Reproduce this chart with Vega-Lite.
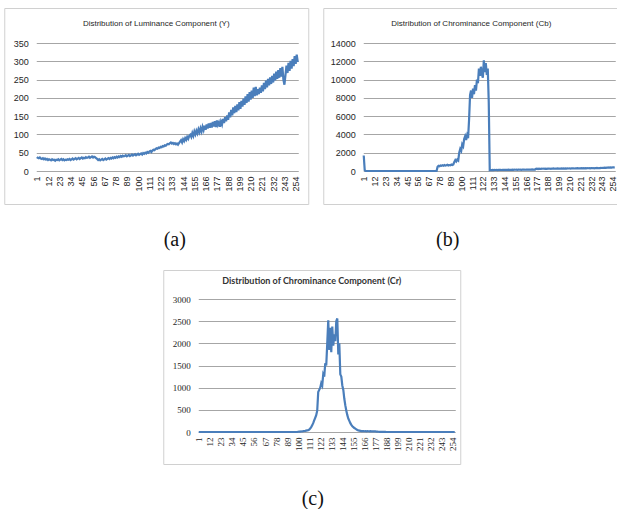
{
"$schema": "https://vega.github.io/schema/vega-lite/v6.json",
"padding": {"left": 3, "top": 7, "right": 0, "bottom": 0},
"background": "white",
"datasets": {"hist": [
{"i":1,"Y":38,"Cb":1700,"Cr":0},{"i":2,"Y":36,"Cb":80,"Cr":0},{"i":3,"Y":35,"Cb":0,"Cr":0},{"i":4,"Y":37,"Cb":0,"Cr":0},{"i":5,"Y":34,"Cb":0,"Cr":0},
{"i":6,"Y":33,"Cb":0,"Cr":0},{"i":7,"Y":35,"Cb":0,"Cr":0},{"i":8,"Y":32,"Cb":0,"Cr":0},{"i":9,"Y":34,"Cb":0,"Cr":0},{"i":10,"Y":31,"Cb":0,"Cr":0},
{"i":11,"Y":33,"Cb":0,"Cr":0},{"i":12,"Y":30,"Cb":0,"Cr":0},{"i":13,"Y":32,"Cb":0,"Cr":0},{"i":14,"Y":31,"Cb":0,"Cr":0},{"i":15,"Y":29,"Cb":0,"Cr":0},
{"i":16,"Y":32,"Cb":0,"Cr":0},{"i":17,"Y":30,"Cb":0,"Cr":0},{"i":18,"Y":31,"Cb":0,"Cr":0},{"i":19,"Y":28,"Cb":0,"Cr":0},{"i":20,"Y":31,"Cb":0,"Cr":0},
{"i":21,"Y":30,"Cb":0,"Cr":0},{"i":22,"Y":32,"Cb":0,"Cr":0},{"i":23,"Y":29,"Cb":0,"Cr":0},{"i":24,"Y":31,"Cb":0,"Cr":0},{"i":25,"Y":33,"Cb":0,"Cr":0},
{"i":26,"Y":30,"Cb":0,"Cr":0},{"i":27,"Y":32,"Cb":0,"Cr":0},{"i":28,"Y":29,"Cb":0,"Cr":0},{"i":29,"Y":31,"Cb":0,"Cr":0},{"i":30,"Y":30,"Cb":0,"Cr":0},
{"i":31,"Y":32,"Cb":0,"Cr":0},{"i":32,"Y":31,"Cb":0,"Cr":0},{"i":33,"Y":33,"Cb":0,"Cr":0},{"i":34,"Y":30,"Cb":0,"Cr":0},{"i":35,"Y":32,"Cb":0,"Cr":0},
{"i":36,"Y":34,"Cb":0,"Cr":0},{"i":37,"Y":31,"Cb":0,"Cr":0},{"i":38,"Y":33,"Cb":0,"Cr":0},{"i":39,"Y":35,"Cb":0,"Cr":0},{"i":40,"Y":32,"Cb":0,"Cr":0},
{"i":41,"Y":34,"Cb":0,"Cr":0},{"i":42,"Y":36,"Cb":0,"Cr":0},{"i":43,"Y":33,"Cb":0,"Cr":0},{"i":44,"Y":35,"Cb":0,"Cr":0},{"i":45,"Y":37,"Cb":0,"Cr":0},
{"i":46,"Y":34,"Cb":0,"Cr":0},{"i":47,"Y":36,"Cb":0,"Cr":0},{"i":48,"Y":35,"Cb":0,"Cr":0},{"i":49,"Y":38,"Cb":0,"Cr":0},{"i":50,"Y":36,"Cb":0,"Cr":0},
{"i":51,"Y":37,"Cb":0,"Cr":0},{"i":52,"Y":39,"Cb":0,"Cr":0},{"i":53,"Y":36,"Cb":0,"Cr":0},{"i":54,"Y":38,"Cb":0,"Cr":0},{"i":55,"Y":40,"Cb":0,"Cr":0},
{"i":56,"Y":37,"Cb":0,"Cr":0},{"i":57,"Y":39,"Cb":0,"Cr":0},{"i":58,"Y":38,"Cb":0,"Cr":0},{"i":59,"Y":35,"Cb":0,"Cr":0},{"i":60,"Y":33,"Cb":0,"Cr":0},
{"i":61,"Y":30,"Cb":0,"Cr":0},{"i":62,"Y":32,"Cb":0,"Cr":0},{"i":63,"Y":29,"Cb":0,"Cr":0},{"i":64,"Y":31,"Cb":0,"Cr":0},{"i":65,"Y":33,"Cb":0,"Cr":0},
{"i":66,"Y":30,"Cb":0,"Cr":0},{"i":67,"Y":32,"Cb":0,"Cr":0},{"i":68,"Y":34,"Cb":0,"Cr":0},{"i":69,"Y":31,"Cb":0,"Cr":0},{"i":70,"Y":33,"Cb":0,"Cr":0},
{"i":71,"Y":35,"Cb":0,"Cr":0},{"i":72,"Y":33,"Cb":0,"Cr":0},{"i":73,"Y":36,"Cb":0,"Cr":0},{"i":74,"Y":34,"Cb":0,"Cr":0},{"i":75,"Y":37,"Cb":0,"Cr":0},
{"i":76,"Y":35,"Cb":450,"Cr":0},{"i":77,"Y":38,"Cb":560,"Cr":0},{"i":78,"Y":36,"Cb":520,"Cr":0},{"i":79,"Y":39,"Cb":600,"Cr":0},{"i":80,"Y":37,"Cb":560,"Cr":0},
{"i":81,"Y":40,"Cb":620,"Cr":0},{"i":82,"Y":38,"Cb":580,"Cr":0},{"i":83,"Y":41,"Cb":650,"Cr":0},{"i":84,"Y":39,"Cb":600,"Cr":0},{"i":85,"Y":42,"Cb":630,"Cr":0},
{"i":86,"Y":40,"Cb":680,"Cr":0},{"i":87,"Y":41,"Cb":610,"Cr":0},{"i":88,"Y":43,"Cb":650,"Cr":0},{"i":89,"Y":40,"Cb":620,"Cr":0},{"i":90,"Y":42,"Cb":700,"Cr":0},
{"i":91,"Y":44,"Cb":660,"Cr":0},{"i":92,"Y":41,"Cb":720,"Cr":0},{"i":93,"Y":43,"Cb":1000,"Cr":0},{"i":94,"Y":45,"Cb":1200,"Cr":0},{"i":95,"Y":42,"Cb":1050,"Cr":0},
{"i":96,"Y":44,"Cb":1250,"Cr":0},{"i":97,"Y":46,"Cb":1150,"Cr":0},{"i":98,"Y":43,"Cb":2000,"Cr":0},{"i":99,"Y":45,"Cb":2400,"Cr":0},{"i":100,"Y":47,"Cb":2200,"Cr":5},
{"i":101,"Y":44,"Cb":2900,"Cr":8},{"i":102,"Y":46,"Cb":2700,"Cr":10},{"i":103,"Y":48,"Cb":3500,"Cr":12},{"i":104,"Y":45,"Cb":3800,"Cr":15},{"i":105,"Y":49,"Cb":3400,"Cr":18},
{"i":106,"Y":47,"Cb":3900,"Cr":22},{"i":107,"Y":50,"Cb":3600,"Cr":25},{"i":108,"Y":48,"Cb":5600,"Cr":30},{"i":109,"Y":52,"Cb":8300,"Cr":35},{"i":110,"Y":50,"Cb":8800,"Cr":40},
{"i":111,"Y":53,"Cb":8000,"Cr":55},{"i":112,"Y":55,"Cb":9000,"Cr":80},{"i":113,"Y":52,"Cb":8400,"Cr":110},{"i":114,"Y":56,"Cb":9400,"Cr":150},{"i":115,"Y":58,"Cb":8800,"Cr":200},
{"i":116,"Y":57,"Cb":10000,"Cr":260},{"i":117,"Y":60,"Cb":9600,"Cr":320},{"i":118,"Y":62,"Cb":11200,"Cr":380},{"i":119,"Y":61,"Cb":10400,"Cr":480},{"i":120,"Y":64,"Cb":11400,"Cr":900},
{"i":121,"Y":63,"Cb":10600,"Cr":950},{"i":122,"Y":66,"Cb":10200,"Cr":1000},{"i":123,"Y":65,"Cb":12100,"Cr":1100},{"i":124,"Y":68,"Cb":10800,"Cr":1050},{"i":125,"Y":67,"Cb":11800,"Cr":1300},
{"i":126,"Y":70,"Cb":10500,"Cr":1250},{"i":127,"Y":69,"Cb":11200,"Cr":1550},{"i":128,"Y":72,"Cb":7500,"Cr":1500},{"i":129,"Y":74,"Cb":90,"Cr":2000},{"i":130,"Y":73,"Cb":110,"Cr":2520},
{"i":131,"Y":76,"Cb":100,"Cr":1850},{"i":132,"Y":78,"Cb":120,"Cr":2350},{"i":133,"Y":75,"Cb":105,"Cr":1800},{"i":134,"Y":77,"Cb":115,"Cr":2380},{"i":135,"Y":74,"Cb":110,"Cr":1950},
{"i":136,"Y":76,"Cb":125,"Cr":2200},{"i":137,"Y":73,"Cb":100,"Cr":2050},{"i":138,"Y":75,"Cb":120,"Cr":2500},{"i":139,"Y":72,"Cb":115,"Cr":2560},{"i":140,"Y":76,"Cb":130,"Cr":1750},
{"i":141,"Y":80,"Cb":110,"Cr":2000},{"i":142,"Y":84,"Cb":125,"Cr":1300},{"i":143,"Y":78,"Cb":120,"Cr":1250},{"i":144,"Y":87,"Cb":135,"Cr":1050},{"i":145,"Y":82,"Cb":115,"Cr":950},
{"i":146,"Y":90,"Cb":130,"Cr":750},{"i":147,"Y":85,"Cb":125,"Cr":600},{"i":148,"Y":93,"Cb":140,"Cr":480},{"i":149,"Y":88,"Cb":120,"Cr":380},{"i":150,"Y":96,"Cb":135,"Cr":300},
{"i":151,"Y":99,"Cb":130,"Cr":250},{"i":152,"Y":93,"Cb":145,"Cr":200},{"i":153,"Y":104,"Cb":125,"Cr":160},{"i":154,"Y":96,"Cb":140,"Cr":130},{"i":155,"Y":108,"Cb":135,"Cr":110},
{"i":156,"Y":100,"Cb":150,"Cr":90},{"i":157,"Y":110,"Cb":130,"Cr":75},{"i":158,"Y":103,"Cb":145,"Cr":60},{"i":159,"Y":114,"Cb":140,"Cr":45},{"i":160,"Y":106,"Cb":155,"Cr":35},
{"i":161,"Y":117,"Cb":135,"Cr":30},{"i":162,"Y":108,"Cb":150,"Cr":25},{"i":163,"Y":121,"Cb":145,"Cr":20},{"i":164,"Y":112,"Cb":160,"Cr":18},{"i":165,"Y":124,"Cb":140,"Cr":20},
{"i":166,"Y":113,"Cb":155,"Cr":17},{"i":167,"Y":127,"Cb":150,"Cr":19},{"i":168,"Y":116,"Cb":165,"Cr":16},{"i":169,"Y":130,"Cb":145,"Cr":18},{"i":170,"Y":118,"Cb":160,"Cr":17},
{"i":171,"Y":131,"Cb":155,"Cr":15},{"i":172,"Y":119,"Cb":170,"Cr":18},{"i":173,"Y":134,"Cb":150,"Cr":16},{"i":174,"Y":122,"Cb":165,"Cr":14},{"i":175,"Y":136,"Cb":160,"Cr":15},
{"i":176,"Y":120,"Cb":230,"Cr":13},{"i":177,"Y":138,"Cb":250,"Cr":12},{"i":178,"Y":126,"Cb":220,"Cr":10},{"i":179,"Y":133,"Cb":260,"Cr":8},{"i":180,"Y":121,"Cb":240,"Cr":6},
{"i":181,"Y":135,"Cb":235,"Cr":5},{"i":182,"Y":127,"Cb":255,"Cr":4},{"i":183,"Y":142,"Cb":245,"Cr":3},{"i":184,"Y":131,"Cb":265,"Cr":2},{"i":185,"Y":147,"Cb":230,"Cr":2},
{"i":186,"Y":136,"Cb":250,"Cr":1},{"i":187,"Y":152,"Cb":240,"Cr":1},{"i":188,"Y":140,"Cb":260,"Cr":0},{"i":189,"Y":160,"Cb":250,"Cr":0},{"i":190,"Y":147,"Cb":270,"Cr":0},
{"i":191,"Y":167,"Cb":245,"Cr":0},{"i":192,"Y":152,"Cb":265,"Cr":0},{"i":193,"Y":174,"Cb":255,"Cr":0},{"i":194,"Y":158,"Cb":275,"Cr":0},{"i":195,"Y":178,"Cb":250,"Cr":0},
{"i":196,"Y":161,"Cb":270,"Cr":0},{"i":197,"Y":182,"Cb":260,"Cr":0},{"i":198,"Y":166,"Cb":280,"Cr":0},{"i":199,"Y":188,"Cb":255,"Cr":0},{"i":200,"Y":170,"Cb":275,"Cr":0},
{"i":201,"Y":192,"Cb":265,"Cr":0},{"i":202,"Y":176,"Cb":285,"Cr":0},{"i":203,"Y":198,"Cb":260,"Cr":0},{"i":204,"Y":181,"Cb":280,"Cr":0},{"i":205,"Y":204,"Cb":270,"Cr":0},
{"i":206,"Y":186,"Cb":290,"Cr":0},{"i":207,"Y":210,"Cb":265,"Cr":0},{"i":208,"Y":190,"Cb":285,"Cr":0},{"i":209,"Y":216,"Cb":275,"Cr":0},{"i":210,"Y":195,"Cb":295,"Cr":0},
{"i":211,"Y":220,"Cb":270,"Cr":0},{"i":212,"Y":200,"Cb":290,"Cr":0},{"i":213,"Y":228,"Cb":280,"Cr":0},{"i":214,"Y":205,"Cb":300,"Cr":0},{"i":215,"Y":230,"Cb":275,"Cr":0},
{"i":216,"Y":207,"Cb":295,"Cr":0},{"i":217,"Y":224,"Cb":285,"Cr":0},{"i":218,"Y":210,"Cb":305,"Cr":0},{"i":219,"Y":228,"Cb":280,"Cr":0},{"i":220,"Y":214,"Cb":300,"Cr":0},
{"i":221,"Y":234,"Cb":290,"Cr":0},{"i":222,"Y":218,"Cb":310,"Cr":0},{"i":223,"Y":241,"Cb":285,"Cr":0},{"i":224,"Y":224,"Cb":305,"Cr":0},{"i":225,"Y":247,"Cb":295,"Cr":0},
{"i":226,"Y":229,"Cb":315,"Cr":0},{"i":227,"Y":252,"Cb":290,"Cr":0},{"i":228,"Y":234,"Cb":310,"Cr":0},{"i":229,"Y":256,"Cb":300,"Cr":0},{"i":230,"Y":238,"Cb":320,"Cr":0},
{"i":231,"Y":260,"Cb":295,"Cr":0},{"i":232,"Y":242,"Cb":315,"Cr":0},{"i":233,"Y":266,"Cb":305,"Cr":0},{"i":234,"Y":248,"Cb":325,"Cr":0},{"i":235,"Y":272,"Cb":300,"Cr":0},
{"i":236,"Y":252,"Cb":320,"Cr":0},{"i":237,"Y":276,"Cb":310,"Cr":0},{"i":238,"Y":255,"Cb":330,"Cr":0},{"i":239,"Y":281,"Cb":305,"Cr":0},{"i":240,"Y":258,"Cb":325,"Cr":0},
{"i":241,"Y":285,"Cb":320,"Cr":0},{"i":242,"Y":250,"Cb":345,"Cr":0},{"i":243,"Y":236,"Cb":330,"Cr":0},{"i":244,"Y":262,"Cb":355,"Cr":0},{"i":245,"Y":288,"Cb":340,"Cr":0},
{"i":246,"Y":268,"Cb":365,"Cr":0},{"i":247,"Y":296,"Cb":350,"Cr":0},{"i":248,"Y":274,"Cb":375,"Cr":0},{"i":249,"Y":301,"Cb":360,"Cr":0},{"i":250,"Y":280,"Cb":385,"Cr":0},
{"i":251,"Y":306,"Cb":370,"Cr":0},{"i":252,"Y":287,"Cb":395,"Cr":0},{"i":253,"Y":314,"Cb":380,"Cr":0},{"i":254,"Y":293,"Cb":405,"Cr":0},{"i":255,"Y":318,"Cb":390,"Cr":0},
{"i":256,"Y":298,"Cb":400,"Cr":0}
]},
"data": {"name": "hist"},
"spacing": 19,
"center": true,
"vconcat": [
 {"hconcat": [
  {"width": 304, "height": 196,
   "title": {"text": "Distribution of Luminance  Component  (Y)", "offset": -20},
   "mark": {"type": "line", "color": "#4a7ebb", "strokeWidth": 2.2},
   "encoding": {
    "x": {"field": "i", "type": "quantitative",
          "scale": {"domain": [0.5, 256.5], "range": [32, 294], "nice": false, "zero": false},
          "axis": {"values": [1,12,23,34,45,56,67,78,89,100,111,122,133,144,155,166,177,188,199,210,221,232,243,254],
                   "labelAngle": -90, "grid": false, "offset": -33, "labelPadding": 5,
                   "title": "(a)", "titleX": 170, "titleY": 68, "titleBaseline": "middle"}},
    "y": {"field": "Y", "type": "quantitative",
          "scale": {"domain": [0, 350], "range": [163, 35], "nice": false},
          "axis": {"values": [0,50,100,150,200,250,300,350], "format": "d", "grid": true, "offset": -32, "labelPadding": 8, "title": null}}
   }},
  {"width": 296, "height": 196,
   "title": {"text": "Distribution of Chrominance  Component  (Cb)", "offset": -20},
   "mark": {"type": "line", "color": "#4a7ebb", "strokeWidth": 2.2},
   "encoding": {
    "x": {"field": "i", "type": "quantitative",
          "scale": {"domain": [0.5, 256.5], "range": [40, 292], "nice": false, "zero": false},
          "axis": {"values": [1,12,23,34,45,56,67,78,89,100,111,122,133,144,155,166,177,188,199,210,221,232,243,254],
                   "labelAngle": -90, "grid": false, "offset": -33, "labelPadding": 5,
                   "title": "(b)", "titleX": 124, "titleY": 68, "titleBaseline": "middle"}},
    "y": {"field": "Cb", "type": "quantitative",
          "scale": {"domain": [0, 14000], "range": [163, 35], "nice": false},
          "axis": {"values": [0,2000,4000,6000,8000,10000,12000,14000], "format": "d", "grid": true, "offset": -40, "labelPadding": 8, "title": null}}
   }}
 ], "spacing": 13},
 {"width": 297, "height": 194,
  "title": {"text": "Distribution of Chrominance  Component  (Cr)", "offset": -16, "font": "Lato", "fontWeight": "bold", "fontSize": 9, "color": "#333333"},
  "mark": {"type": "line", "color": "#4a7ebb", "strokeWidth": 2.2},
  "encoding": {
   "x": {"field": "i", "type": "quantitative",
         "scale": {"domain": [0.5, 256.5], "range": [35, 292], "nice": false, "zero": false},
         "axis": {"values": [1,12,23,34,45,56,67,78,89,100,111,122,133,144,155,166,177,188,199,210,221,232,243,254],
                  "labelAngle": -90, "grid": false, "offset": -32, "labelPadding": 5, "labelFont": "Liberation Serif", "labelFontSize": 9,
                  "title": "(c)", "titleX": 149, "titleY": 66, "titleBaseline": "middle"}},
   "y": {"field": "Cr", "type": "quantitative",
         "scale": {"domain": [0, 3000], "range": [162, 29], "nice": false},
         "axis": {"values": [0,500,1000,1500,2000,2500,3000], "format": "d", "grid": true, "offset": -35, "labelPadding": 8, "labelFont": "Liberation Serif", "labelFontSize": 9, "title": null}}
  }}
],
"config": {
 "view": {"stroke": "#d0d0d0", "strokeWidth": 1},
 "axis": {"labelFont": "Liberation Sans", "labelFontSize": 9, "labelColor": "#262626", "ticks": false, "tickSize": 0, "domain": false,
          "gridColor": "#a6a6a6", "gridWidth": 1, "labelFlush": false, "labelOverlap": false, "labelBound": false,
          "titleFont": "Liberation Serif", "titleFontSize": 20, "titleFontWeight": "normal", "titleColor": "#111111"},
 "title": {"font": "Liberation Sans", "fontSize": 8, "fontWeight": "normal", "color": "#262626", "anchor": "middle", "frame": "group", "baseline": "middle"}
}
}
